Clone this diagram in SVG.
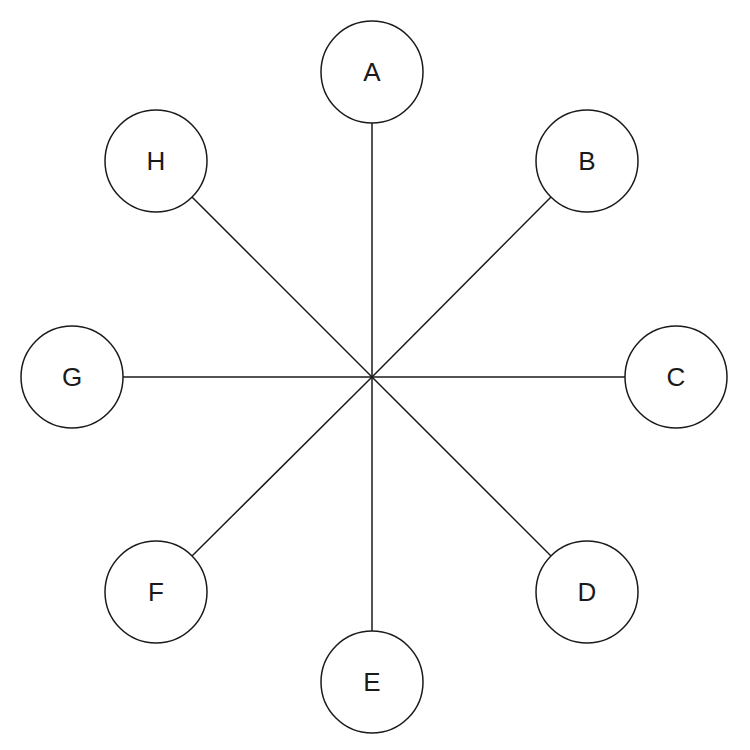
<svg xmlns="http://www.w3.org/2000/svg" width="750" height="750" viewBox="0 0 750 750">
<style>
circle{fill:#fff;stroke:#1a1a1a;stroke-width:1.5}
line{stroke:#1a1a1a;stroke-width:1.5}
text{font-family:"Liberation Sans",Arial,sans-serif;font-size:26px;fill:#1a1a1a;text-anchor:middle;dominant-baseline:central}
</style>
<rect width="750" height="750" fill="#fff"/>
<g id="connectors">
<line x1="372" y1="377" x2="372" y2="123"/>
<line x1="372" y1="377" x2="551" y2="197"/>
<line x1="372" y1="377" x2="625" y2="377"/>
<line x1="372" y1="377" x2="551" y2="556"/>
<line x1="372" y1="377" x2="372" y2="631"/>
<line x1="372" y1="377" x2="192" y2="556"/>
<line x1="372" y1="377" x2="123" y2="377"/>
<line x1="372" y1="377" x2="192" y2="197"/>
</g>
<g id="A"><circle cx="372" cy="72" r="51"/><text x="372" y="72">A</text></g>
<g id="B"><circle cx="587" cy="161" r="51"/><text x="587" y="161">B</text></g>
<g id="C"><circle cx="676" cy="377" r="51"/><text x="676" y="377">C</text></g>
<g id="D"><circle cx="587" cy="592" r="51"/><text x="587" y="592">D</text></g>
<g id="E"><circle cx="372" cy="682" r="51"/><text x="372" y="682">E</text></g>
<g id="F"><circle cx="156" cy="592" r="51"/><text x="156" y="592">F</text></g>
<g id="G"><circle cx="72" cy="377" r="51"/><text x="72" y="377">G</text></g>
<g id="H"><circle cx="156" cy="161" r="51"/><text x="156" y="161">H</text></g>
</svg>
